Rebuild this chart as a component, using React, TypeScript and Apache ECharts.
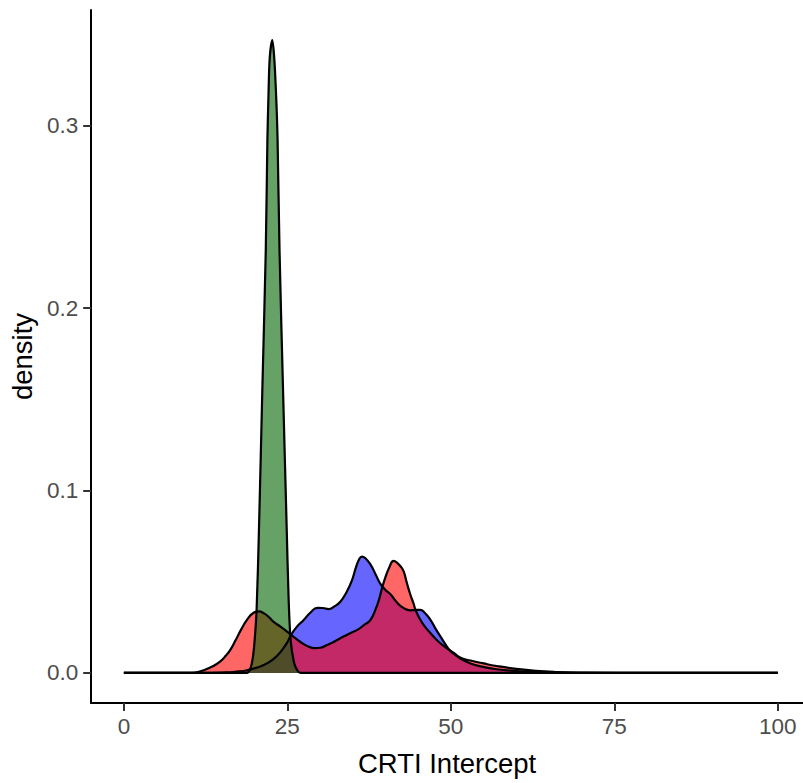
import React, { useEffect, useRef } from "react";
import * as echarts from "echarts";

// Tick values
const xTicks = [0, 25, 50, 75, 100];
const yTicks = [0, 0.1, 0.2, 0.3];

// Density curves: [CRTI intercept, density]
const blueDensity: [number, number][] = [
  [0, 0], [12, 0], [15, 0.0002], [17, 0.0006], [19, 0.0016], [21.4, 0.0044], [23, 0.008],
  [24, 0.0117], [25, 0.0168], [25.5, 0.0205], [26.5, 0.0255], [27.5, 0.029], [28.5, 0.033],
  [29.6, 0.0357], [30.4, 0.0356], [31.3, 0.035], [32.2, 0.0365], [33.1, 0.039], [34.0, 0.044],
  [34.8, 0.05], [35.5, 0.058], [36.0, 0.0625], [36.4, 0.0638], [36.9, 0.063], [37.7, 0.0595],
  [38.5, 0.054], [39.2, 0.049], [40.0, 0.0455], [40.8, 0.043], [41.8, 0.0385], [42.8, 0.0355],
  [43.8, 0.0343], [44.6, 0.0345], [45.3, 0.0346], [46.0, 0.033], [46.9, 0.029], [47.7, 0.024],
  [48.4, 0.02], [49.2, 0.0155], [49.9, 0.0122], [50.7, 0.0098], [51.5, 0.0078], [53, 0.0052],
  [55, 0.0033], [57, 0.002], [60, 0.001], [63, 0.0004], [68, 0.0001], [75, 0], [100, 0],
];

const redDensity: [number, number][] = [
  [0, 0], [10, 0], [11.3, 0.0005], [12.3, 0.0016], [13.5, 0.0035], [14.8, 0.0065], [15.6, 0.0095],
  [16.3, 0.0128], [17.1, 0.018], [17.9, 0.0236], [18.9, 0.0295], [19.9, 0.0331], [20.6, 0.0337],
  [21.5, 0.0325], [22.2, 0.0305], [22.9, 0.028], [24, 0.0252], [25, 0.0225], [25.8, 0.0202],
  [26.6, 0.018], [27.5, 0.0158], [28.3, 0.0143], [29.1, 0.0136], [30, 0.0138], [31, 0.0152],
  [32, 0.0168], [32.6, 0.018], [33.5, 0.0198], [34.6, 0.0218], [35.7, 0.0236], [36.7, 0.0262],
  [37.7, 0.029], [38.5, 0.035], [39.0, 0.04], [39.5, 0.0468], [40.0, 0.0525], [40.6, 0.058],
  [41.25, 0.0614], [41.8, 0.0603], [42.4, 0.058], [42.8, 0.0555], [43.3, 0.049], [43.8, 0.043],
  [44.3, 0.038], [44.6, 0.0345], [45.2, 0.03], [46.0, 0.0255], [46.9, 0.0218], [48, 0.0175],
  [49.4, 0.0135], [50.5, 0.0108], [51.5, 0.0083], [53, 0.0068], [55, 0.0052], [57, 0.0038],
  [60, 0.0022], [63, 0.0011], [66, 0.0005], [70, 0.0002], [80, 0.00005], [100, 0],
];

const greenDensity: [number, number][] = [
  [0, 0], [18.8, 0], [19.3, 0.002], [19.7, 0.008], [20.0, 0.018], [20.3, 0.035], [20.66, 0.079],
  [21.17, 0.155], [21.7, 0.232], [21.95, 0.293], [22.1, 0.315], [22.3, 0.337], [22.7, 0.347],
  [23.0, 0.337], [23.3, 0.315], [23.5, 0.293], [23.8, 0.232], [24.34, 0.155], [24.9, 0.079],
  [25.2, 0.04], [25.5, 0.018], [26.0, 0.006], [26.5, 0.0015], [27.0, 0], [100, 0],
];

const FONT = "'Liberation Sans', Arial, Helvetica, sans-serif";

function densitySeries(name: string, data: [number, number][], fill: string, smooth: number) {
  return {
    name,
    type: "line",
    data,
    showSymbol: false,
    symbol: "none",
    smooth,
    lineStyle: { color: "#000000", width: 2.2, join: "round" },
    areaStyle: { color: fill, opacity: 1 },
    itemStyle: { color: "#000000" },
  };
}

export default function App() {
  const ref = useRef<HTMLDivElement>(null);
  useEffect(() => {
    if (!ref.current) return;
    const chart = echarts.init(ref.current, null, { renderer: "svg" });
    chart.setOption({
      animation: false,
      backgroundColor: "#ffffff",
      grid: { left: 90, top: 10, right: 0, height: 693, containLabel: false },
      xAxis: {
        type: "value",
        min: -5,
        max: 103.85,
        splitLine: { show: false },
        axisLine: { onZero: false, lineStyle: { color: "#000000", width: 2 } },
        axisTick: { customValues: xTicks, length: 8, lineStyle: { color: "#333333", width: 2 } },
        axisLabel: {
          customValues: xTicks,
          margin: 12,
          fontSize: 22.5,
          color: "#4d4d4d",
          fontFamily: FONT,
        },
        name: "CRTI Intercept",
        nameLocation: "middle",
        nameGap: 46,
        nameTextStyle: { fontSize: 27.5, color: "#000000", fontFamily: FONT },
      },
      yAxis: {
        type: "value",
        min: -0.0165,
        max: 0.3635,
        splitLine: { show: false },
        axisLine: { onZero: false, lineStyle: { color: "#000000", width: 2 } },
        axisTick: { customValues: yTicks, length: 8, lineStyle: { color: "#333333", width: 2 } },
        axisLabel: {
          customValues: yTicks,
          margin: 13,
          fontSize: 22.5,
          color: "#4d4d4d",
          fontFamily: FONT,
          formatter: (v: number) => v.toFixed(1),
        },
        name: "density",
        nameLocation: "middle",
        nameGap: 46,
        nameRotate: 90,
        nameTextStyle: { fontSize: 27.5, color: "#000000", fontFamily: FONT },
      },
      series: [
        densitySeries("blue", blueDensity, "rgba(0,0,255,0.6)", 0.5),
        densitySeries("red", redDensity, "rgba(255,0,0,0.6)", 0.5),
        densitySeries("green", greenDensity, "rgba(0,100,0,0.6)", 0.3),
      ],
    });
    return () => chart.dispose();
  }, []);
  return (
    <div
      ref={ref}
      style={{ position: "fixed", left: 0, top: 0, width: 803, height: 783, background: "#fff" }}
    />
  );
}
